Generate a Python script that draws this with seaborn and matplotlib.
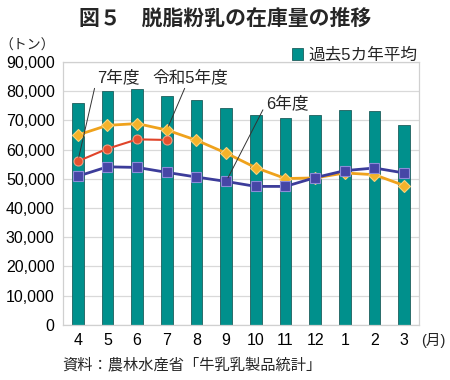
import numpy as np
import pandas as pd
import matplotlib
matplotlib.use("Agg")
import matplotlib.pyplot as plt
import seaborn as sns

months = ["4", "5", "6", "7", "8", "9", "10", "11", "12", "1", "2", "3"]
avg5 = [76100, 80100, 80700, 78500, 76900, 74300, 72000, 70700, 71800, 73700, 73300, 68400]
r5 = [65000, 68300, 68900, 66700, 63200, 58800, 53800, 50100, 50300, 52000, 51400, 47700]
r6 = [50900, 54100, 53900, 52200, 50600, 49100, 47400, 47400, 50400, 52800, 53700, 52000]
r7 = [56000, 60300, 63500, 63300, np.nan, np.nan, np.nan, np.nan, np.nan, np.nan, np.nan, np.nan]
yticks = list(range(0, 90001, 10000))

sns.set_theme(style="white")
FAM = ["Liberation Sans", "Noto Sans CJK JP"]
plt.rcParams["font.family"] = FAM

df = pd.DataFrame({"month": months, "idx": np.arange(len(months)),
                   "avg5": avg5, "r5": r5, "r6": r6, "r7": r7})

fig = plt.figure(figsize=(4.5, 3.8), dpi=100)
ax = fig.add_axes([0.14, 0.145, 0.791, 0.692])

sns.barplot(data=df, x="month", y="avg5", order=months, color="#00908C",
            width=0.4, edgecolor="#1E5E5C", linewidth=0.6, saturation=1,
            ax=ax, label="過去5カ年平均", zorder=2)

sns.lineplot(data=df, x="idx", y="r5", color="#EFA21C", lw=2, marker="D",
             markersize=6, markerfacecolor="#F4B32A", markeredgecolor="#F8D27A",
             markeredgewidth=0.8, ax=ax, zorder=4, legend=False)
sns.lineplot(data=df, x="idx", y="r6", color="#3C3C9A", lw=2, marker="s",
             markersize=6.5, markerfacecolor="#4646A6", markeredgecolor="#8C8CD8",
             markeredgewidth=0.8, ax=ax, zorder=4, legend=False)
sns.lineplot(data=df.dropna(subset=["r7"]), x="idx", y="r7", color="#E0442A", lw=1.5,
             marker="o", markersize=6.5, markerfacecolor="#E5502E",
             markeredgecolor="#F39A80", markeredgewidth=0.8, ax=ax, zorder=5,
             legend=False)

ax.set_ylim(0, 90000)
ax.set_xlim(-0.5, len(months) - 0.5)
ax.set_yticks(yticks)
ax.set_yticklabels([f"{v:,}" for v in yticks], fontsize=11.5, family=FAM)
ax.set_xticks(np.arange(len(months)))
ax.set_xticklabels(months, fontsize=11.5, family=FAM)
ax.tick_params(axis="both", length=0, pad=6, colors="black")
ax.set_xlabel("")
ax.set_ylabel("")
ax.yaxis.grid(True, color="#D9D9D9", lw=0.9, zorder=0)
ax.set_axisbelow(True)
for s in ax.spines.values():
    s.set_color("#D0D0D0")
    s.set_linewidth(0.9)

# annotations
ap = dict(arrowstyle="-", color="#333333", lw=0.7, shrinkA=0, shrinkB=3)
ax.annotate("7年度", xy=(0, r7[0]), xytext=(0.65, 84800), fontsize=12,
            family=FAM, ha="left", va="center",
            arrowprops=dict(ap, relpos=(0, 0.5)), zorder=6)
ax.annotate("令和5年度", xy=(3, r5[3]), xytext=(2.5, 84800), fontsize=12,
            family=FAM, ha="left", va="center",
            arrowprops=dict(ap, relpos=(0.45, 0.0)), zorder=6)
ax.annotate("6年度", xy=(5, r6[5]), xytext=(6.35, 75800), fontsize=12,
            family=FAM, ha="left", va="center",
            arrowprops=dict(ap, relpos=(0, 0.5)), zorder=6)

leg = ax.legend(loc="lower right", bbox_to_anchor=(1.0, 0.99), frameon=False,
                prop={"family": FAM, "size": 12}, handlelength=0.7,
                handleheight=0.7, handletextpad=0.3, borderaxespad=0,
                borderpad=0.1)

fig.text(0.5, 0.952, "図５　脱脂粉乳の在庫量の推移", ha="center", va="center",
         fontsize=15, fontweight="bold", family=["Noto Sans CJK JP"])
fig.text(0.06, 0.88, "（トン）", ha="center", va="center", fontsize=10,
         family=FAM)
fig.text(0.962, 0.105, "(月)", ha="center", va="center", fontsize=10.5,
         family=FAM)
fig.text(0.138, 0.04, "資料：農林水産省「牛乳乳製品統計」", ha="left",
         va="center", fontsize=11, family=FAM)

fig.savefig("out.png", dpi=100, facecolor="white")
